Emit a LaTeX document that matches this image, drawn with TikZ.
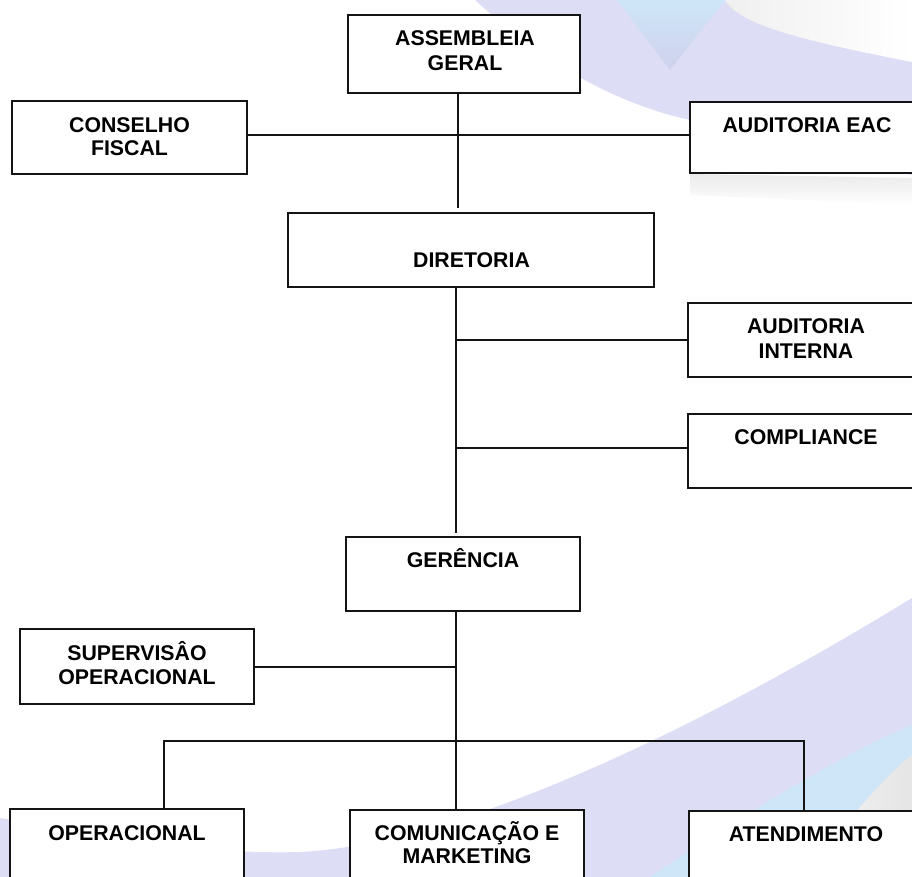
\documentclass[tikz,border=0pt]{standalone}
\usepackage{fontspec}
\setmainfont{Liberation Sans}
\definecolor{lav}{RGB}{221,221,246}
\definecolor{lavv}{RGB}{207,209,236}
\definecolor{lblue}{RGB}{206,230,248}
\definecolor{linec}{RGB}{20,20,20}
\begin{document}
\begin{tikzpicture}[x=1pt,y=-1pt,
  box/.style={draw=linec, line width=1.9pt, fill=white, inner sep=0pt, outer sep=0pt},
  conn/.style={draw=linec, line width=1.7pt},
  lbl/.style={font=\bfseries\fontsize{21.3}{25}\selectfont, anchor=base, yshift=-7.5pt, inner sep=0pt}]
\useasboundingbox (0,0) rectangle (912,877);
\clip (0,0) rectangle (912,877);
\fill[white] (0,0) rectangle (912,877);
% background watermark
\fill[lav] (475,0) .. controls (530,50) and (600,100) .. (690,120) .. controls (780,140) and (860,165) .. (912,175) -- (912,0) -- cycle;
\shade[top color=lblue, bottom color=lavv] (617,0) -- (670,70) -- (725,0) -- cycle;
\shade[left color=black!6, right color=white] (725,0) .. controls (740,25) and (800,40) .. (912,62) -- (912,0) -- cycle;
\shade[top color=black!8, bottom color=white] (690,174) -- (912,178) -- (912,205) -- (690,195) -- cycle;
\fill[lav] (0,818) .. controls (100,835) and (200,855) .. (300,852) .. controls (450,845) and (680,740) .. (912,598) -- (912,877) -- (0,877) -- cycle;
\fill[lblue] (650,877) .. controls (750,810) and (850,750) .. (912,725) -- (912,877) -- cycle;
\shade[left color=black!4, right color=black!10] (800,877) .. controls (850,820) and (880,780) .. (912,755) -- (912,877) -- cycle;
% boxes
\node[box, minimum width=232pt, minimum height=78pt] (ag) at (464,54) {};
\node[box, minimum width=235pt, minimum height=73pt] (cf) at (129.5,137.5) {};
\node[box, minimum width=234pt, minimum height=71pt] (eac) at (807,137.5) {};
\node[box, minimum width=366pt, minimum height=74pt] (dir) at (471,250) {};
\node[box, minimum width=235pt, minimum height=74pt] (ai) at (805.5,340) {};
\node[box, minimum width=235pt, minimum height=74pt] (comp) at (805.5,451) {};
\node[box, minimum width=234pt, minimum height=74pt] (ger) at (463,574) {};
\node[box, minimum width=234pt, minimum height=75pt] (sup) at (137,666.5) {};
\node[box, minimum width=234pt, minimum height=74pt] (op) at (127,846) {};
\node[box, minimum width=234pt, minimum height=74pt] (com) at (467,847) {};
\node[box, minimum width=234pt, minimum height=74pt] (ate) at (806,848) {};
% labels
\node[lbl] (tag1) at (465,38) {ASSEMBLEIA};
\node[lbl] (tag2) at (465,63) {GERAL};
\node[lbl] (tcf1) at (129.5,125) {CONSELHO};
\node[lbl] (tcf2) at (129.5,148) {FISCAL};
\node[lbl] (teac) at (807,125) {AUDITORIA EAC};
\node[lbl] (tdir) at (471.5,260) {DIRETORIA};
\node[lbl] (tai1) at (806,326) {AUDITORIA};
\node[lbl] (tai2) at (806,351) {INTERNA};
\node[lbl] (tcomp) at (806,437) {COMPLIANCE};
\node[lbl] (tger) at (463,560) {GERÊNCIA};
\node[lbl] (tsup1) at (137,653) {SUPERVISÂO};
\node[lbl] (tsup2) at (137,677) {OPERACIONAL};
\node[lbl] (tope) at (127,833) {OPERACIONAL};
\node[lbl] (tcom1) at (467,833) {COMUNICAÇÃO E};
\node[lbl] (tcom2) at (467,856) {MARKETING};
\node[lbl] (tate) at (806,834) {ATENDIMENTO};
% connectors
\coordinate (j1) at (458,135);
\coordinate (d1) at (458,208);
\draw[conn] (ag.south -| j1) -- (d1);
\draw[conn] (cf.east |- j1) -- (eac.west |- j1);
\coordinate (d2) at (456,533);
\draw[conn] (dir.south -| d2) -- (d2);
\draw[conn] (ai.west -| d2) -- (ai.west);
\coordinate (c2) at (456,448);
\draw[conn] (c2) -- (c2 -| comp.west);
\coordinate (s3) at (456,667);
\coordinate (t3) at (456,741);
\draw[conn] (ger.south -| t3) -- (t3 |- com.north);
\draw[conn] (sup.east |- s3) -- (s3);
\coordinate (bL) at (164,741);
\coordinate (bR) at (804,741);
\draw[conn] (bL |- op.north) -- (bL) -- (bR) -- (bR |- ate.north);
\end{tikzpicture}
\end{document}
